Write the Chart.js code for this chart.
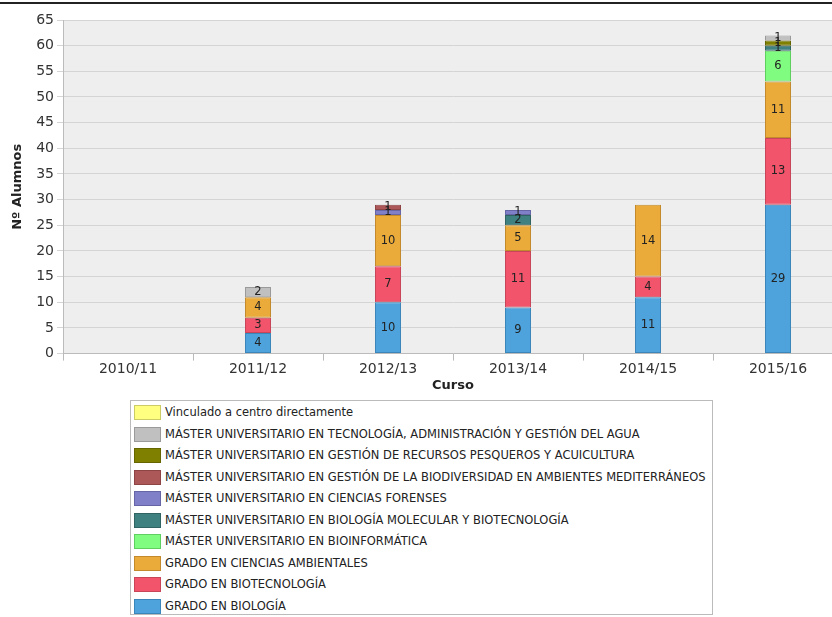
<!DOCTYPE html>
<html>
<head>
<meta charset="utf-8">
<script src="https://cdn.jsdelivr.net/npm/chart.js@4"></script>
<style>
    html, body { margin: 0; padding: 0; background: #fff; overflow: hidden; width: 832px; height: 617px; }
    #topline { position: absolute; left: 0; top: 2px; width: 832px; height: 2px; background: #222; }
    #wrap { position: absolute; left: 0; top: 0; width: 846px; height: 393px; }
    #legend { position: absolute; left: 130px; top: 400px; width: 581px; height: 213px; border: 1px solid #bbb; background: #fff;
              font-family: "DejaVu Sans", sans-serif; font-size: 11.5px; color: #222; }
    #legend .item { position: absolute; left: 3px; height: 16px; line-height: 16px; white-space: nowrap; }
    #legend .sw { display: inline-block; width: 25px; height: 13px; vertical-align: middle; border: 1px solid #999; margin-right: 4px; }
</style>
</head>
<body>
<div id="topline"></div>
<div id="wrap"><canvas id="chart"></canvas></div>
<div id="legend"></div>
<script>
    'use strict';

    var cursos = ['2010/11', '2011/12', '2012/13', '2013/14', '2014/15', '2015/16'];

    // stack order, bottom first
    var biologia        = [0, 4, 10, 9, 11, 29];
    var biotecnologia   = [0, 3, 7, 11, 4, 13];
    var ambientales     = [0, 4, 10, 5, 14, 11];
    var bioinformatica  = [0, 0, 0, 0, 0, 6];
    var biomolecular    = [0, 0, 0, 2, 0, 1];
    var forenses        = [0, 0, 1, 1, 0, 0];
    var biodiversidad   = [0, 0, 1, 0, 0, 0];
    var pesqueros       = [0, 0, 0, 0, 0, 1];
    var agua            = [0, 2, 0, 0, 0, 1];
    var vinculado       = [0, 0, 0, 0, 0, 0];

    var yTicks = [0, 5, 10, 15, 20, 25, 30, 35, 40, 45, 50, 55, 60, 65];

    var series = [
        { label: 'GRADO EN BIOLOGÍA', data: biologia, color: '#4ea3dc', border: '#3a86ba' },
        { label: 'GRADO EN BIOTECNOLOGÍA', data: biotecnologia, color: '#f2556b', border: '#c9465a' },
        { label: 'GRADO EN CIENCIAS AMBIENTALES', data: ambientales, color: '#eaab3a', border: '#c28a2c' },
        { label: 'MÁSTER UNIVERSITARIO EN BIOINFORMÁTICA', data: bioinformatica, color: '#80fc80', border: '#5fcf5f' },
        { label: 'MÁSTER UNIVERSITARIO EN BIOLOGÍA MOLECULAR Y BIOTECNOLOGÍA', data: biomolecular, color: '#3e8180', border: '#2f6463' },
        { label: 'MÁSTER UNIVERSITARIO EN CIENCIAS FORENSES', data: forenses, color: '#8080c8', border: '#6666a6' },
        { label: 'MÁSTER UNIVERSITARIO EN GESTIÓN DE LA BIODIVERSIDAD EN AMBIENTES MEDITERRÁNEOS', data: biodiversidad, color: '#ad5858', border: '#8c4444' },
        { label: 'MÁSTER UNIVERSITARIO EN GESTIÓN DE RECURSOS PESQUEROS Y ACUICULTURA', data: pesqueros, color: '#808000', border: '#666600' },
        { label: 'MÁSTER UNIVERSITARIO EN TECNOLOGÍA, ADMINISTRACIÓN Y GESTIÓN DEL AGUA', data: agua, color: '#c0c0c0', border: '#9a9a9a' },
        { label: 'Vinculado a centro directamente', data: vinculado, color: '#ffff80', border: '#cccc66' }
    ];

    var plotBackground = {
        id: 'plotBackground',
        beforeDraw: function (chart) {
            var a = chart.chartArea, ctx = chart.ctx;
            ctx.save();
            ctx.fillStyle = '#eeeeee';
            ctx.fillRect(a.left, a.top, a.right - a.left, a.bottom - a.top);
            ctx.restore();
        }
    };

    var segmentLabels = {
        id: 'segmentLabels',
        afterDatasetsDraw: function (chart) {
            var ctx = chart.ctx;
            ctx.save();
            ctx.font = '11.5px "DejaVu Sans", sans-serif';
            ctx.fillStyle = '#222';
            ctx.textAlign = 'center';
            ctx.textBaseline = 'middle';
            chart.data.datasets.forEach(function (ds, i) {
                chart.getDatasetMeta(i).data.forEach(function (bar, j) {
                    var v = ds.data[j];
                    if (!v) return;
                    var p = bar.getProps(['x', 'y', 'base'], true);
                    ctx.fillText(String(v), p.x, (p.y + p.base) / 2);
                });
            });
            ctx.restore();
        }
    };

    var chart = new Chart(document.getElementById('chart'), {
        type: 'bar',
        data: {
            labels: cursos,
            datasets: series.map(function (s) {
                return {
                    label: s.label,
                    data: s.data,
                    backgroundColor: s.color,
                    borderColor: s.border,
                    borderWidth: 1,
                    borderSkipped: false,
                    barPercentage: 0.2,
                    categoryPercentage: 1.0
                };
            })
        },
        options: {
            responsive: true,
            maintainAspectRatio: false,
            animation: false,
            layout: { padding: { top: 20, right: 3, left: 0, bottom: 0 } },
            plugins: {
                legend: { display: false },
                tooltip: { enabled: false }
            },
            scales: {
                x: {
                    stacked: true,
                    grid: { display: true, drawOnChartArea: false, offset: true, color: '#bbbbbb', tickLength: 7 },
                    border: { color: '#bbbbbb' },
                    ticks: { color: '#333', font: { family: 'DejaVu Sans', size: 14 }, padding: 0 },
                    title: { display: true, text: 'Curso', color: '#222', font: { family: 'DejaVu Sans', size: 13, weight: 'bold' }, padding: { top: 0, bottom: 0 } }
                },
                y: {
                    stacked: true,
                    min: 0,
                    max: 65,
                    afterBuildTicks: function (axis) {
                        axis.ticks = yTicks.map(function (v) { return { value: v }; });
                    },
                    afterFit: function (axis) { axis.width = 63; },
                    grid: { color: '#d4d4d4', tickLength: 6 },
                    border: { color: '#bbbbbb' },
                    ticks: { color: '#333', font: { family: 'DejaVu Sans', size: 14 }, padding: 3 },
                    title: { display: true, text: 'Nº Alumnos', color: '#222', font: { family: 'DejaVu Sans', size: 13, weight: 'bold' }, padding: { top: 10, bottom: 0 } }
                }
            }
        },
        plugins: [plotBackground, segmentLabels]
    });

    // legend, top of stack first
    var legend = document.getElementById('legend');
    series.slice().reverse().forEach(function (s, i) {
        var item = document.createElement('div');
        item.className = 'item';
        item.style.top = (3 + i * 21.5) + 'px';
        item.innerHTML = '<span class="sw" style="background:' + s.color + ';border-color:' + s.border + '"></span>' + s.label;
        legend.appendChild(item);
    });
</script>
</body>
</html>
